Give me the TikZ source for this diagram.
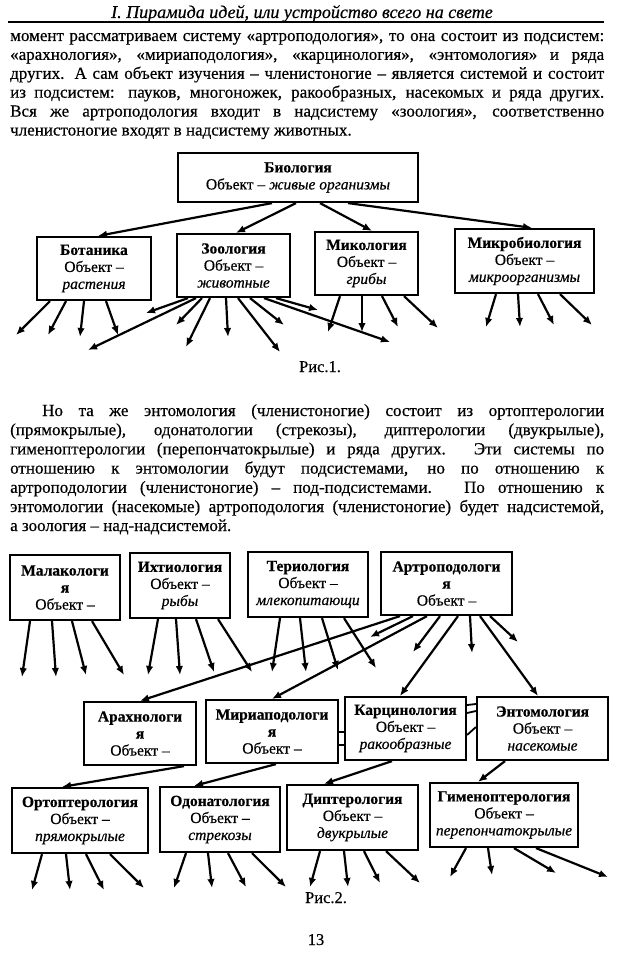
\documentclass[tikz,border=0pt]{standalone}
\usepackage{fontspec}
\setmainfont{Liberation Serif}[FakeBold=0.5]
\usepackage{tikz}
\usetikzlibrary{shapes,arrows,arrows.meta,positioning,calc}

% one justified line of the page text
\newcommand{\jline}[1]{\makebox[594pt][s]{#1}}

\begin{document}
\begin{tikzpicture}[x=1pt, y=-1pt,
    box/.style={rectangle, draw, line width=2.2pt, align=center, inner sep=1pt, font=\fontsize{15.5}{17}\selectfont},
    body/.style={anchor=base west, inner sep=0pt, font=\fontsize{17}{19}\selectfont},
    figcap/.style={anchor=base, inner sep=0pt, font=\fontsize{16.5}{19}\selectfont},
    line/.style={draw, -{Latex[length=9pt,width=7.5pt]}, line width=2.2pt},
    stub/.style={draw, line width=1.8pt}]

    \useasboundingbox (0,0) rectangle (620,960);

    % page head
    \node [anchor=base, inner sep=0pt, font=\fontsize{18}{20}\selectfont\itshape] (head) at (302,18) {I. Пирамида идей, или устройство всего на свете};
    \draw [line width=1.3pt] (8,22) -- (604,22);

    % first paragraph
    \foreach \txt [count=\i] in {{момент рассматриваем систему «артроподология», то она состоит из подсистем:},
        {«арахнология», «мириаподология», «карцинология», «энтомология» и ряда},
        {других. А сам объект изучения – членистоногие – является системой и состоит},
        {из подсистем: пауков, многоножек, ракообразных, насекомых и ряда других.},
        {Вся же артроподология входит в надсистему «зоология», соответственно}}
        \node [body] (pa-\i) at (10,{41+18.9*(\i-1)}) {\jline{\txt}};
    \node [body] (pa-6) at (10,135.5) {членистоногие входят в надсистему животных.};

    % Fig. 1
    \node [box, minimum width=240pt, minimum height=49pt] (bio) at (298,177.5) {\textbf{Биология}\\Объект – \textit{живые организмы}};
    \node [box, minimum width=114pt, minimum height=63pt] (bot) at (94,268.5) {\textbf{Ботаника}\\Объект –\\\textit{растения}};
    \node [box, minimum width=113pt, minimum height=63pt] (zoo) at (233.5,265.5) {\textbf{Зоология}\\Объект –\\\textit{животные}};
    \node [box, minimum width=103pt, minimum height=63pt] (myc) at (366.5,263.5) {\textbf{Микология}\\Объект –\\\textit{грибы}};
    \node [box, minimum width=139pt, minimum height=64pt] (mic) at (524.5,261) {\textbf{Микробиология}\\Объект –\\\textit{микроорганизмы}};

    \path [line] (bio.south -| 272,0) -- (bot.north -| 98,0);
    \path [line] (bio.south -| 296,0) -- (zoo.north -| 236,0);
    \path [line] (bio.south -| 320,0) -- (myc.north -| 372,0);
    \path [line] (bio.south -| 348,0) -- (mic.north -| 532,0);

    \foreach \n/\sx/\ex/\ey [count=\i] in {bot/50/16/335, bot/66/48/335, bot/84/80/337, bot/106/118/335,
        zoo/188/146/313, zoo/196/88/350, zoo/202/176/325, zoo/210/186/347, zoo/226/228/337,
        zoo/238/280/352, zoo/250/284/325, zoo/264/390/342, zoo/276/318/310,
        myc/340/328/332, myc/362/362/332, myc/382/398/327, myc/404/438/328,
        mic/496/486/327, mic/518/520/327, mic/538/554/325, mic/560/592/325}{
        \coordinate (ta-\i) at (\ex,\ey);
        \path [line] (\n.south -| \sx,0) -- (ta-\i);
    }
    \node [figcap] (cap1) at (320,372) {Рис.1.};

    % second paragraph
    \node [body] (pb-1) at (42,416) {\makebox[562pt][s]{Но та же энтомология (членистоногие) состоит из ортоптерологии}};
    \foreach \txt [count=\i from 2] in {{(прямокрылые), одонатологии (стрекозы), диптерологии (двукрылые),},
        {гименоптерологии (перепончатокрылые) и ряда других. Эти системы по},
        {отношению к энтомологии будут подсистемами, но по отношению к},
        {артроподологии (членистоногие) – под-подсистемами. По отношению к},
        {энтомологии (насекомые) артроподология (членистоногие) будет надсистемой,}}
        \node [body] (pb-\i) at (10,{416+19.2*(\i-1)}) {\jline{\txt}};
    \node [body] (pb-7) at (10,531) {а зоология – над-надсистемой.};

    % Fig. 2, first row
    \node [box, minimum width=110pt, minimum height=65pt] (mal) at (65,587.5) {\textbf{Малакологи}\\\textbf{я}\\Объект –};
    \node [box, minimum width=100pt, minimum height=65pt] (ich) at (180,585.5) {\textbf{Ихтиология}\\Объект –\\\textit{рыбы}};
    \node [box, minimum width=120pt, minimum height=65pt] (ter) at (308,584.5) {\textbf{Териология}\\Объект –\\\textit{млекопитающи}};
    \node [box, minimum width=131pt, minimum height=63pt] (art) at (446.5,583.5) {\textbf{Артроподологи}\\\textbf{я}\\Объект –};

    % second row
    \node [box, minimum width=112pt, minimum height=63pt] (ara) at (140,733.5) {\textbf{Арахнологи}\\\textbf{я}\\Объект –};
    \node [box, minimum width=132pt, minimum height=63pt] (mir) at (272,731.5) {\textbf{Мириаподологи}\\\textbf{я}\\Объект –};
    \node [box, minimum width=121pt, minimum height=63pt] (kar) at (405.5,728.5) {\textbf{Карцинология}\\Объект –\\\textit{ракообразные}};
    \node [box, minimum width=131pt, minimum height=63pt] (ent) at (542.5,728.5) {\textbf{Энтомология}\\Объект –\\\textit{насекомые}};

    % third row
    \node [box, minimum width=136pt, minimum height=65pt] (ort) at (80,820.5) {\textbf{Ортоптерология}\\Объект –\\\textit{прямокрылые}};
    \node [box, minimum width=120pt, minimum height=65pt] (odo) at (220,819.5) {\textbf{Одонатология}\\Объект –\\\textit{стрекозы}};
    \node [box, minimum width=131pt, minimum height=65pt] (dip) at (352.5,817.5) {\textbf{Диптерология}\\Объект –\\\textit{двукрылые}};
    \node [box, minimum width=148pt, minimum height=64pt] (gim) at (504,815) {\textbf{Гименоптерология}\\Объект –\\\textit{перепончатокрылые}};

    \path [line] (art.south -| 400,0) -- (ara.north -| 140,0);
    \path [line] (art.south -| 427,0) -- (mir.north -| 272,0);
    \path [line] (art.south -| 458,0) -- (kar.north -| 400,0);
    \path [line] (art.south -| 480,0) -- (ent.north -| 538,0);

    \path [line] (ara.south -| 184,0) -- (ort.north -| 62,0);
    \path [line] (mir.south -| 276,0) -- (odo.north -| 194,0);
    \path [line] (kar.south -| 392,0) -- (dip.north -| 324,0);
    \path [line] (ent.south -| 505,0) -- (gim.north -| 478,0);

    % short strokes between the boxes
    \path [stub] (mir.east |- 0,732) -- (kar.west |- 0,732);
    \path [stub] (mir.east |- 0,745) -- (kar.west |- 0,745);
    \path [stub] (kar.east |- 0,705) -- (ent.west |- 0,704);
    \path [stub] (kar.east |- 0,713) -- (ent.west |- 0,711);
    \path [stub] (kar.east |- 0,735) -- (ent.west |- 0,727);

    \foreach \n/\sx/\ex/\ey [count=\i] in {mal/30/22/677, mal/52/56/677, mal/72/86/675, mal/92/124/675,
        ich/158/148/675, ich/176/180/675, ich/196/214/672, ich/218/252/672,
        ter/280/272/672, ter/300/306/672, ter/322/338/670, ter/344/376/668,
        art/413/370/637, art/440/413/652, art/470/472/653, art/490/518/642,
        ort/42/32/890, ort/66/70/890, ort/86/104/890, ort/110/144/888,
        odo/186/174/888, odo/208/212/888, odo/228/246/887, odo/252/286/887,
        dip/320/310/887, dip/344/348/887, dip/364/380/883, dip/386/420/883,
        gim/466/450/877, gim/488/492/875, gim/514/556/873, gim/536/608/877}{
        \coordinate (tb-\i) at (\ex,\ey);
        \path [line] (\n.south -| \sx,0) -- (tb-\i);
    }
    \node [figcap] (cap2) at (326,903) {Рис.2.};
    \node [figcap] (pnum) at (316,945) {13};
\end{tikzpicture}
\end{document}
